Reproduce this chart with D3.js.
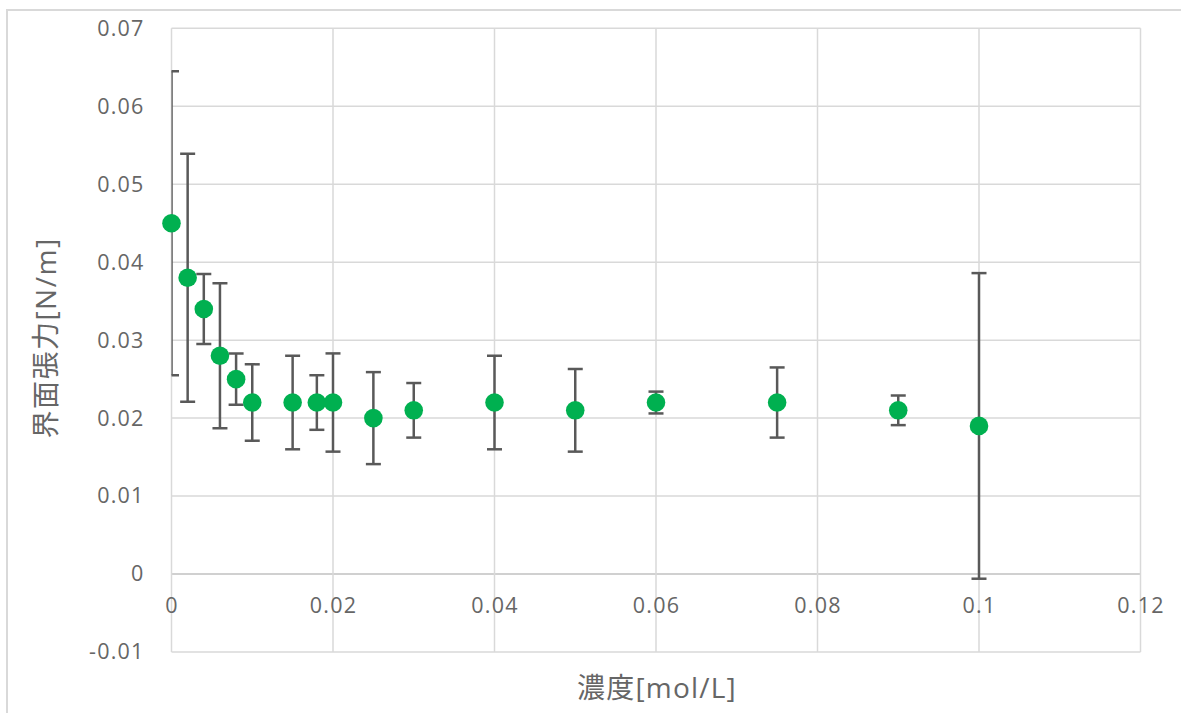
<!DOCTYPE html>
<html><head><meta charset="utf-8">
<script src="https://cdn.jsdelivr.net/npm/d3@7"></script>
<style>html,body{margin:0;padding:0;background:#fff;overflow:hidden}</style>
</head><body>
<svg id="c" width="1181" height="713"></svg>
<script>
const concentration = [0, 0.002, 0.004, 0.006, 0.008, 0.01, 0.015, 0.018, 0.02, 0.025, 0.03, 0.04, 0.05, 0.06, 0.075, 0.09, 0.1];
const tension =       [0.045, 0.038, 0.034, 0.028, 0.025, 0.022, 0.022, 0.022, 0.022, 0.020, 0.021, 0.022, 0.021, 0.022, 0.022, 0.021, 0.019];
const errorSize =     [0.0195, 0.0159, 0.0045, 0.0093, 0.0033, 0.0049, 0.006, 0.0035, 0.0063, 0.0059, 0.0035, 0.006, 0.0053, 0.0014, 0.0045, 0.0019, 0.0196];
const xTicks = [0, 0.02, 0.04, 0.06, 0.08, 0.1, 0.12];
const yTicks = [-0.01, 0, 0.01, 0.02, 0.03, 0.04, 0.05, 0.06, 0.07];
const xTitle = "濃度[mol/L]";
const yTitle = "界面張力[N/m]";

const svg = d3.select("#c");
const font = "'Open Sans','Noto Sans CJK JP',sans-serif";
const L = 171.5, R = 1140.5, T = 28.3, B = 652;
const x = d3.scaleLinear().domain([0, 0.12]).range([L, R]);
const y = d3.scaleLinear().domain([-0.01, 0.07]).range([B, T]);
const fmt = d => String(+d.toFixed(2));

// outer chart border
svg.append("rect").attr("x", 7).attr("y", 10).attr("width", 1200).attr("height", 720)
  .attr("fill", "#fff").attr("stroke", "#d9d9d9").attr("stroke-width", 2);

// gridlines
const grid = svg.append("g");
grid.selectAll("line.h").data(yTicks).join("line")
  .attr("x1", L).attr("x2", R).attr("y1", d => y(d)).attr("y2", d => y(d))
  .attr("stroke", d => d === 0 ? "#d0d0d0" : "#d9d9d9").attr("stroke-width", d => d === 0 ? 2 : 1.5);
grid.selectAll("line.v").data(xTicks).join("line")
  .attr("x1", d => x(d)).attr("x2", d => x(d)).attr("y1", T).attr("y2", B)
  .attr("stroke", "#d9d9d9").attr("stroke-width", 1.5);

// axes (labels only) via d3 axes
const yAxis = d3.axisLeft(y).tickValues(yTicks).tickFormat(fmt).tickSize(0).tickPadding(27);
const gy = svg.append("g").attr("transform", `translate(${L},0)`).call(yAxis);
gy.select(".domain").remove();
gy.selectAll("text").attr("font-family", font).attr("font-size", 21.5).attr("fill", "#666").attr("letter-spacing", 1.2);

const xAxis = d3.axisBottom(x).tickValues(xTicks).tickFormat(fmt).tickSize(0).tickPadding(24);
const gx = svg.append("g").attr("transform", `translate(0,${y(0)})`).call(xAxis);
gx.select(".domain").remove();
gx.selectAll("text").attr("font-family", font).attr("font-size", 21.5).attr("fill", "#666").attr("letter-spacing", 1.2);

// axis titles
svg.append("text").attr("x", 657).attr("y", 698).attr("text-anchor", "middle")
  .attr("font-family", font).attr("font-size", 28).attr("fill", "#666").attr("letter-spacing", 1.2).text(xTitle);
svg.append("text").attr("transform", "translate(56,338) rotate(-90)").attr("text-anchor", "middle")
  .attr("font-family", font).attr("font-size", 28).attr("fill", "#666").attr("letter-spacing", 1.5).text(yTitle);

// clip for error bars
svg.append("clipPath").attr("id", "plotclip").append("rect")
  .attr("x", L).attr("y", T).attr("width", R - L).attr("height", B - T);

const data = concentration.map((c, i) => ({c, v: tension[i], e: errorSize[i]}));
const eb = svg.append("g").attr("clip-path", "url(#plotclip)")
  .attr("stroke", "#595959").attr("stroke-width", 2.5);
const cap = 7.5;
eb.selectAll("line.stem").data(data).join("line")
  .attr("x1", d => x(d.c)).attr("x2", d => x(d.c))
  .attr("y1", d => y(d.v + d.e)).attr("y2", d => y(d.v - d.e));
eb.selectAll("line.top").data(data).join("line")
  .attr("x1", d => x(d.c) - cap).attr("x2", d => x(d.c) + cap)
  .attr("y1", d => y(d.v + d.e)).attr("y2", d => y(d.v + d.e));
eb.selectAll("line.bot").data(data).join("line")
  .attr("x1", d => x(d.c) - cap).attr("x2", d => x(d.c) + cap)
  .attr("y1", d => y(d.v - d.e)).attr("y2", d => y(d.v - d.e));

svg.append("g").selectAll("circle").data(data).join("circle")
  .attr("cx", d => x(d.c)).attr("cy", d => y(d.v)).attr("r", 9.3)
  .attr("fill", "#00b050");
</script>
</body></html>
